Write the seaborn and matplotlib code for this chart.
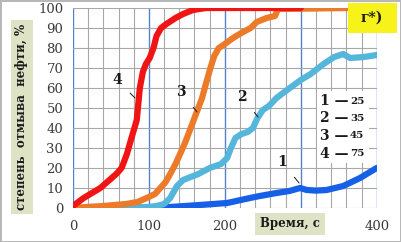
import numpy as np
import pandas as pd
import matplotlib
matplotlib.use("Agg")
import matplotlib.pyplot as plt
import seaborn as sns

# ---- data ----
t1 = [0, 60, 100, 128, 167, 203, 215, 233, 246, 268, 285, 299, 308, 320, 334, 356, 378, 400]
y1 = [0, 0, 0.3, 0.5, 1.5, 2.5, 3.5, 5, 6, 7.5, 8.5, 10, 9, 8.7, 9, 11, 15, 20]

t2 = [0, 60, 75, 100, 110, 120, 128, 137, 145, 155, 165, 180, 195, 203, 208, 214, 222, 230, 237,
      243, 250, 258, 268, 282, 300, 313, 330, 344, 356, 365, 383, 400]
y2 = [0, 0, 0.3, 0.5, 1, 2, 5, 11, 14, 15.5, 17, 20, 22, 25, 30, 35, 37, 38, 40,
      45, 49, 51, 55, 59, 64, 67, 72, 75.5, 77, 75, 75.5, 76.5]

t3 = [0, 18, 40, 70, 85, 97, 108, 115, 122, 128, 135, 141, 148, 154, 160, 165, 170, 175, 181,
      186, 192, 200, 207, 215, 224, 234, 242, 255, 266, 270, 363]
y3 = [0, 0.5, 1, 2, 3, 5, 7, 10, 13, 17, 22, 27, 33, 39, 45, 50, 55, 62, 70,
      76, 80, 82, 84, 86, 88, 90, 93, 95, 96, 99.5, 100]

t4 = [0, 14, 36, 57, 64, 71, 77, 84, 86, 88, 92, 96, 101, 106, 110, 116, 123, 135, 145, 158, 175, 300]
y4 = [1, 5, 10, 17, 20, 27, 35, 44, 52, 60, 68, 72, 75, 80, 86, 90, 92, 95, 97, 99, 100, 100]

series_names = ["1", "2", "3", "4"]
temps = ["25", "35", "45", "75"]
colors = ["#1560e6", "#55b6dc", "#ec7a28", "#f01414"]
xticks = [0, 100, 200, 300, 400]
xticklabels = ["0", "100", "200", "", "400"]
yticks = list(range(0, 101, 10))

frames = []
for name, t, y in zip(series_names, [t1, t2, t3, t4], [y1, y2, y3, y4]):
    frames.append(pd.DataFrame({"t": t, "y": y, "s": name}))
df = pd.concat(frames, ignore_index=True)

sns.set_theme(style="white")
plt.rcParams["font.family"] = ["DejaVu Serif", "DejaVu Sans"]

fig = plt.figure(figsize=(4.01, 2.42), dpi=100)
fig.patch.set_facecolor("white")
fig.patch.set_edgecolor("#b8b8b8")
fig.patch.set_linewidth(2)
ax = fig.add_axes([73 / 401, 1 - 208 / 242, (376.7 - 73) / 401, (208 - 8) / 242])

sns.lineplot(data=df, x="t", y="y", hue="s", palette=dict(zip(series_names, colors)),
             estimator=None, sort=False, linewidth=4.5,
             legend=False, ax=ax, zorder=3)

ax.set_xlim(0, 400)
ax.set_ylim(0, 100)
ax.set_xticks(xticks)
ax.set_xticklabels(xticklabels)
ax.set_xticks(range(0, 401, 20), minor=True)
ax.set_yticks(yticks)
ax.tick_params(axis="both", which="both", length=0, labelsize=9.5, colors="#3a3a3a")
ax.tick_params(axis="x", pad=9)
ax.tick_params(axis="y", pad=7)
ax.grid(True, axis="x", which="minor", color="#a8a8a8", linewidth=0.8, zorder=0)
ax.grid(True, axis="x", which="major", color="#4f83cc", linewidth=1.0, zorder=0)
ax.grid(True, axis="y", which="major", color="#a8a8a8", linewidth=0.8, zorder=0)
for sp in ax.spines.values():
    sp.set_visible(False)
ax.set_xlabel("")
ax.set_ylabel("")

# axis titles with boxes
fig.text(22 / 401, 1 - 117 / 242, "степень  отмыва  нефти, %", rotation=90, ha="center", va="center",
         fontsize=8.5, fontweight="bold", color="#1a1a1a",
         bbox=dict(boxstyle="square,pad=0.35", facecolor="#dfe3c6", edgecolor="none"))
fig.text(290 / 401, 1 - 224 / 242, "Время, с", ha="center", va="center",
         fontsize=8.5, fontweight="bold", color="#1a1a1a",
         bbox=dict(boxstyle="square,pad=0.4", facecolor="#dfe3c6", edgecolor="none"))

# panel tag
ax.add_patch(plt.Rectangle((348 / 401, 1 - 33 / 242), 49 / 401, 30 / 242, transform=fig.transFigure,
                           facecolor="#f7f21a", edgecolor="none", zorder=9, clip_on=False))
fig.text(372 / 401, 1 - 18 / 242, "г*)", ha="center", va="center", fontsize=10, fontweight="bold",
         color="#1a1a1a", zorder=10)

# legend text block
ax.add_patch(plt.Rectangle((317 / 401, 1 - 163 / 242), 52 / 401, 72 / 242, transform=fig.transFigure,
                           facecolor="white", edgecolor="none", zorder=4))
for i, (n, tc) in enumerate(zip(series_names, temps)):
    ypx = 101 + i * 17.5
    fig.text(320 / 401, 1 - ypx / 242, n + " \u2014", ha="left", va="center", fontsize=10,
             fontweight="bold", color="#1a1a1a", zorder=11)
    fig.text(350 / 401, 1 - ypx / 242, tc, ha="left", va="center", fontsize=7.5,
             fontweight="bold", color="#1a1a1a", zorder=11)

# curve labels with leaders
labels = [("4", (58, 64), (81.7, 55)), ("3", (142, 58), (163.4, 48)),
          ("2", (222.5, 55.5), (243.7, 45.5)), ("1", (275, 23), (297.8, 12.5))]
for txt, pos, tip in labels:
    ax.annotate(txt, xy=tip, xytext=pos, ha="center", va="center", fontsize=10, fontweight="bold",
                color="#1a1a1a", zorder=6,
                arrowprops=dict(arrowstyle="-", color="#1a1a1a", linewidth=0.7, shrinkA=5, shrinkB=0))

fig.savefig("out.png", dpi=100)
